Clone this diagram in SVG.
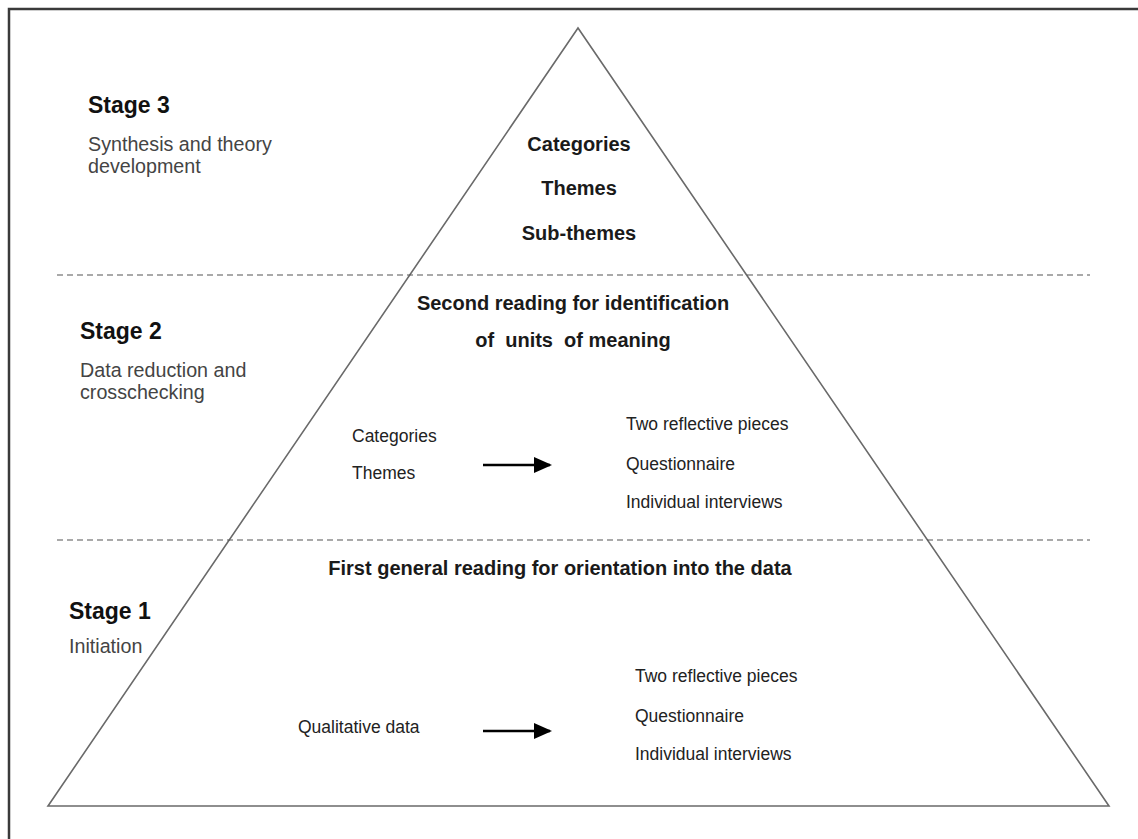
<svg xmlns="http://www.w3.org/2000/svg" width="1138" height="839" viewBox="0 0 1138 839">
  <style>
    .frame { fill: none; stroke: #3a3a3a; stroke-width: 2.5; }
    .tri { fill: none; stroke: #6a6a6a; stroke-width: 1.6; stroke-linejoin: miter; }
    .dash { stroke: #555; stroke-width: 1.2; stroke-dasharray: 6 4; fill: none; }
    .arrow { stroke: #000; stroke-width: 2.5; fill: none; }
    .stage { font-family: "Liberation Sans", Arial, sans-serif; font-weight: bold; font-size: 23px; fill: #111; }
    .desc { font-family: "Liberation Sans", Arial, sans-serif; font-size: 19.7px; fill: #444; }
    .head { font-family: "Liberation Sans", Arial, sans-serif; font-weight: bold; font-size: 20px; fill: #1a1a1a; text-anchor: middle; white-space: pre; }
    .item { font-family: "Liberation Sans", Arial, sans-serif; font-size: 17.5px; fill: #222; }
  </style>
  <defs>
    <marker id="ah" markerUnits="userSpaceOnUse" markerWidth="18" markerHeight="16" refX="16" refY="8" orient="auto">
      <path d="M0,0 L18,8 L0,16 Z" fill="#000"/>
    </marker>
  </defs>
  <rect width="1138" height="839" fill="#fff"/>
  <g id="frame">
    <polyline class="frame" points="9,839 9,9 1138,9"/>
  </g>
  <g id="pyramid">
    <polygon class="tri" points="578,28 48,806 1109,806"/>
  </g>
  <g id="dividers">
    <line class="dash" x1="57" y1="275" x2="1090" y2="275"/>
    <line class="dash" x1="57" y1="540" x2="1090" y2="540"/>
  </g>
  <g id="stage3">
    <text class="stage" x="88" y="113">Stage 3</text>
    <text class="desc" x="88" y="151">Synthesis and theory</text>
    <text class="desc" x="88" y="173">development</text>
    <text class="head" x="579" y="151">Categories</text>
    <text class="head" x="579" y="195">Themes</text>
    <text class="head" x="579" y="240">Sub-themes</text>
  </g>
  <g id="stage2">
    <text class="stage" x="80" y="339">Stage 2</text>
    <text class="desc" x="80" y="377">Data reduction and</text>
    <text class="desc" x="80" y="399">crosschecking</text>
    <text class="head" x="573" y="310">Second reading for identification</text>
    <text class="head" x="573" y="347">of  units  of meaning</text>
    <text class="item" x="352" y="442">Categories</text>
    <text class="item" x="352" y="479">Themes</text>
    <text class="item" x="626" y="430">Two reflective pieces</text>
    <text class="item" x="626" y="470">Questionnaire</text>
    <text class="item" x="626" y="508">Individual interviews</text>
  </g>
  <g id="stage1">
    <text class="stage" x="69" y="619">Stage 1</text>
    <text class="desc" x="69" y="653">Initiation</text>
    <text class="head" x="560" y="575">First general reading for orientation into the data</text>
    <text class="item" x="298" y="733">Qualitative data</text>
    <text class="item" x="635" y="682">Two reflective pieces</text>
    <text class="item" x="635" y="722">Questionnaire</text>
    <text class="item" x="635" y="760">Individual interviews</text>
  </g>
  <g id="connectors">
    <line class="arrow" x1="483" y1="465" x2="550" y2="465" marker-end="url(#ah)"/>
    <line class="arrow" x1="483" y1="731" x2="550" y2="731" marker-end="url(#ah)"/>
  </g>
</svg>
